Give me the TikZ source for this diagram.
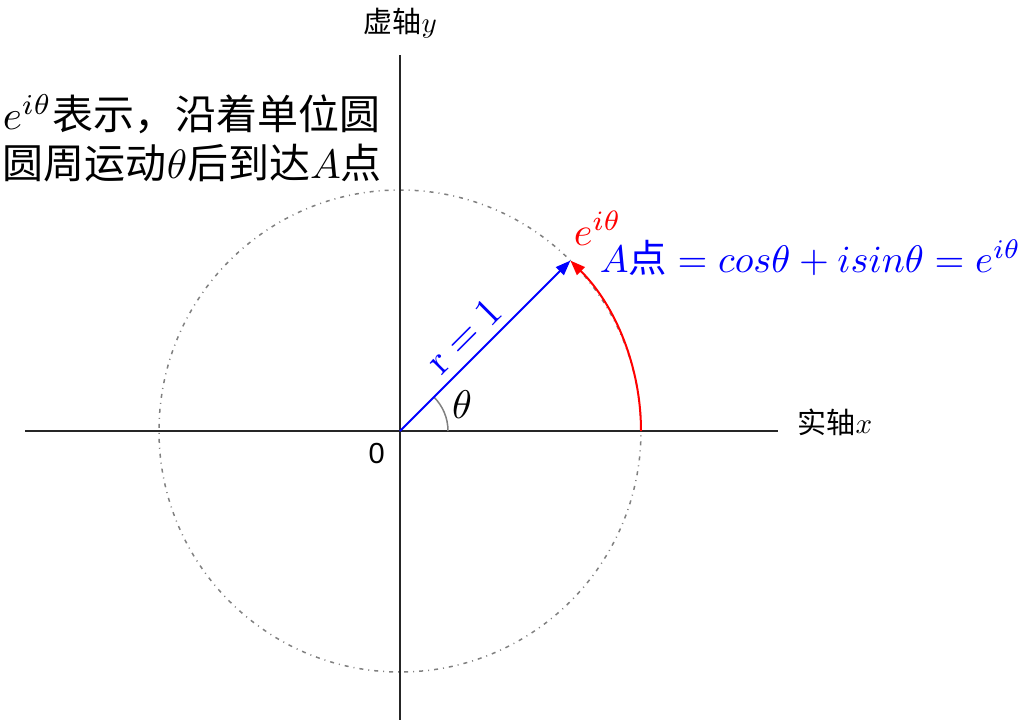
\documentclass[tikz,border=0pt]{standalone}
\usepackage{fontspec}
\newfontfamily\cjk{Noto Sans CJK SC}
\newfontfamily\sansf{Liberation Sans}
\usetikzlibrary{arrows.meta,calc}
\begin{document}
\begin{tikzpicture}[x=1pt,y=1pt,
  axis/.style={line width=1.6pt, black!85},
  circ/.style={line width=1.5pt, gray, dash pattern=on 4pt off 5pt on 1pt off 5pt},
  vec/.style={line width=2pt, blue, -{Triangle[length=15pt,width=11pt]}},
  redarc/.style={line width=2pt, red, -{Triangle[length=15pt,width=11pt]}},
  anglearc/.style={line width=1.5pt, gray},
  big/.style={inner sep=0pt, font=\fontsize{10}{12}\selectfont, scale=4, transform shape},
  head/.style={inner sep=0pt, font=\fontsize{10}{12}\selectfont, scale=4.1, transform shape},
  small/.style={inner sep=0pt, font=\fontsize{10}{12}\selectfont, scale=2.9, transform shape}]
\useasboundingbox (0,0) rectangle (1031,-720);
\coordinate (O) at (400,-431);
\coordinate (ytop) at (400,-55);
\coordinate (ybot) at (400,-720);
\coordinate (xl) at (25,-431);
\coordinate (xr) at (778,-431);
\coordinate (A) at ($(O)+(45:241)$);
\coordinate (R0) at ($(O)+(0:241)$);
\coordinate (G0) at ($(O)+(0:48)$);
\draw[circ] (O) circle[radius=241];
\draw[axis] (ybot) -- (ytop);
\draw[axis] (xl) -- (xr);
\draw[anglearc] (G0) arc[start angle=0, end angle=45, radius=48];
\draw[redarc] (R0) arc[start angle=0, end angle=45, radius=241];
\draw[vec] (O) -- (A);
\node[big, rotate=45, text=blue] (rlab) at ($(O)+(45:112)+(135:22)$) {$\mathrm{r}=1$};
\node[big, anchor=base] (th) at (462,-418) {$\theta$};
\node[big, anchor=base west, text=red] (elab) at (573,-245) {$e^{i\theta}$};
\node[big, scale=0.96, anchor=base west, text=blue] (eq) at (599,-272) {$A\mbox{\cjk 点}=cos\theta+isin\theta=e^{i\theta}$};
\node[head, anchor=base west] (t1) at (2,-129) {$e^{i\theta}${\cjk 表示，沿着单位圆}};
\node[head, anchor=base west] (t2) at (2,-178) {{\cjk 圆周运动}$\theta${\cjk 后到达}$A${\cjk 点}};
\node[small, anchor=base west] (ylab) at (363,-32) {{\cjk 虚轴}$y$};
\node[small, anchor=base west] (xlab) at (797,-433) {{\cjk 实轴}$x$};
\node[small, anchor=base west] (zero) at (368,-463) {\sansf 0};
\end{tikzpicture}
\end{document}
